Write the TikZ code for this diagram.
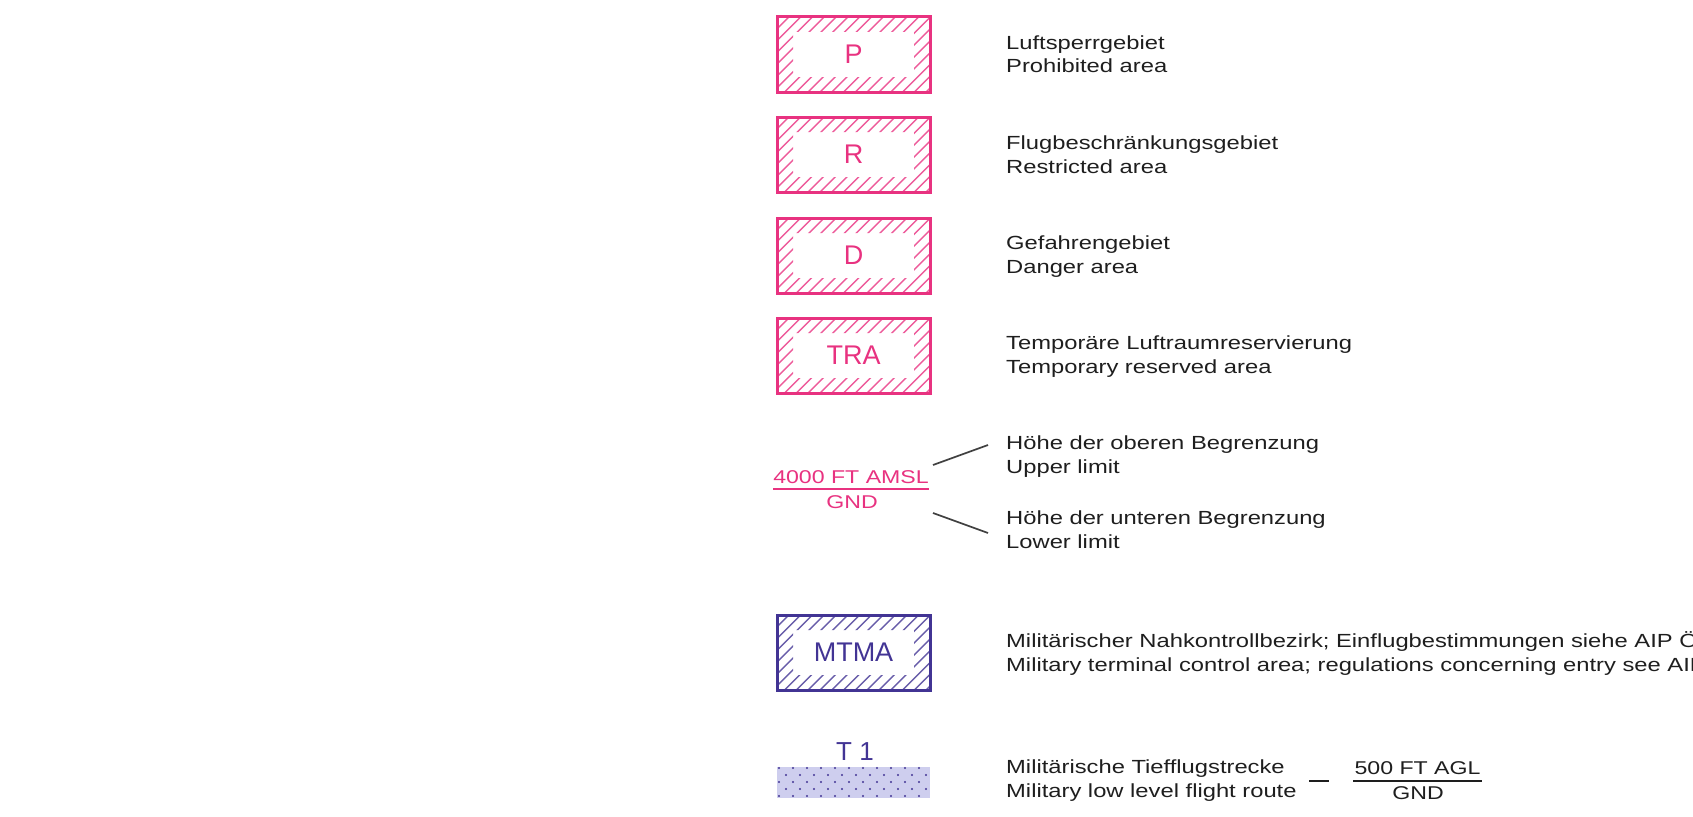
\documentclass[tikz,border=0pt]{standalone}
\usepackage{fontspec}
\setmainfont{Liberation Sans}
\newfontfamily\widefont[FakeStretch=1.25]{Liberation Sans}
\definecolor{areared}{RGB}{232,50,128}
\definecolor{milblue}{RGB}{66,52,148}
\definecolor{routefill}{RGB}{206,206,238}
\definecolor{txtgray}{RGB}{30,30,30}
\begin{document}
\begin{tikzpicture}[x=1pt,y=-1pt,
    legend/.style={font=\widefont\fontsize{19}{24}\selectfont,align=left,inner sep=0pt,text=txtgray,anchor=base west},
    limit/.style={font=\widefont\fontsize{18.5}{20}\selectfont,inner sep=0pt,anchor=base},
    hatch/.style={line width=1.4pt},
    leader/.style={line width=1.7pt,draw=txtgray!85}]
    \clip (0,0) rectangle (1693,816);
    %% hatched areas
    \foreach \lbl/\y/\col in {P/17/areared,R/117/areared,D/218/areared,TRA/318/areared,MTMA/615/milblue} {
        \begin{scope}[even odd rule]
            \clip (777,\y) rectangle ++(153,75) (793,\y+15) rectangle ++(121,45);
            \foreach \k in {0,...,20}
                \draw[hatch,\col!80] ({702+11.8*\k},{\y+75}) -- ++(75,-75);
        \end{scope}
        \node[draw=\col,line width=3pt,minimum width=153pt,minimum height=75pt,text=\col,font=\fontsize{27}{30}\selectfont] (box\lbl) at (853.5,\y+37.5) {\lbl};
    }
    %% legend texts (anchor on the second line)
    \node[legend] (txtP) at (1006,73) {Luftsperrgebiet\\Prohibited area};
    \node[legend] (txtR) at (1006,173) {Flugbeschränkungsgebiet\\Restricted area};
    \node[legend] (txtD) at (1006,273) {Gefahrengebiet\\Danger area};
    \node[legend] (txtTRA) at (1006,373) {Temporäre Luftraumreservierung\\Temporary reserved area};
    \node[legend] (txtUp) at (1006,473) {Höhe der oberen Begrenzung\\Upper limit};
    \node[legend] (txtLow) at (1006,548) {Höhe der unteren Begrenzung\\Lower limit};
    \node[legend] (txtMTMA) at (1006,671) {Militärischer Nahkontrollbezirk; Einflugbestimmungen siehe AIP Österreich\\Military terminal control area; regulations concerning entry see AIP Austria};
    %% vertical limits
    \node[limit,text=areared] (upper) at (851,483) {4000 FT AMSL};
    \node[limit,text=areared] (lower) at (852,508) {GND};
    \draw[areared,line width=1.6pt] (773,489) -- (929,489);
    \coordinate (upA) at (933,465);
    \coordinate (upB) at (988,445);
    \coordinate (lowA) at (933,513);
    \coordinate (lowB) at (988,533);
    \draw[leader] (upA) -- (upB);
    \draw[leader] (lowA) -- (lowB);
    %% low level route
    \fill[routefill] (777,767) rectangle (930,798);
    \foreach \r in {0,...,4}
        \foreach \c in {0,...,10}
            \fill[milblue] ({779+mod(\r,2)*7+14*\c},{768+7*\r}) circle[radius=1.1pt];
    \node[text=milblue,font=\fontsize{26}{30}\selectfont,anchor=base,inner sep=0pt] (route) at (855,760) {T 1};
    \node[legend] (txtT) at (1006,797) {Militärische Tiefflugstrecke\\Military low level flight route};
    \coordinate (dashA) at (1309,781);
    \coordinate (dashB) at (1329,781);
    \draw[txtgray,line width=1.6pt] (dashA) -- (dashB);
    \node[limit,text=txtgray] (rtop) at (1417.5,774) {500 FT AGL};
    \node[limit,text=txtgray] (rbot) at (1418,799) {GND};
    \draw[txtgray,line width=1.6pt] (1353,781) -- (1482,781);
\end{tikzpicture}
\end{document}
